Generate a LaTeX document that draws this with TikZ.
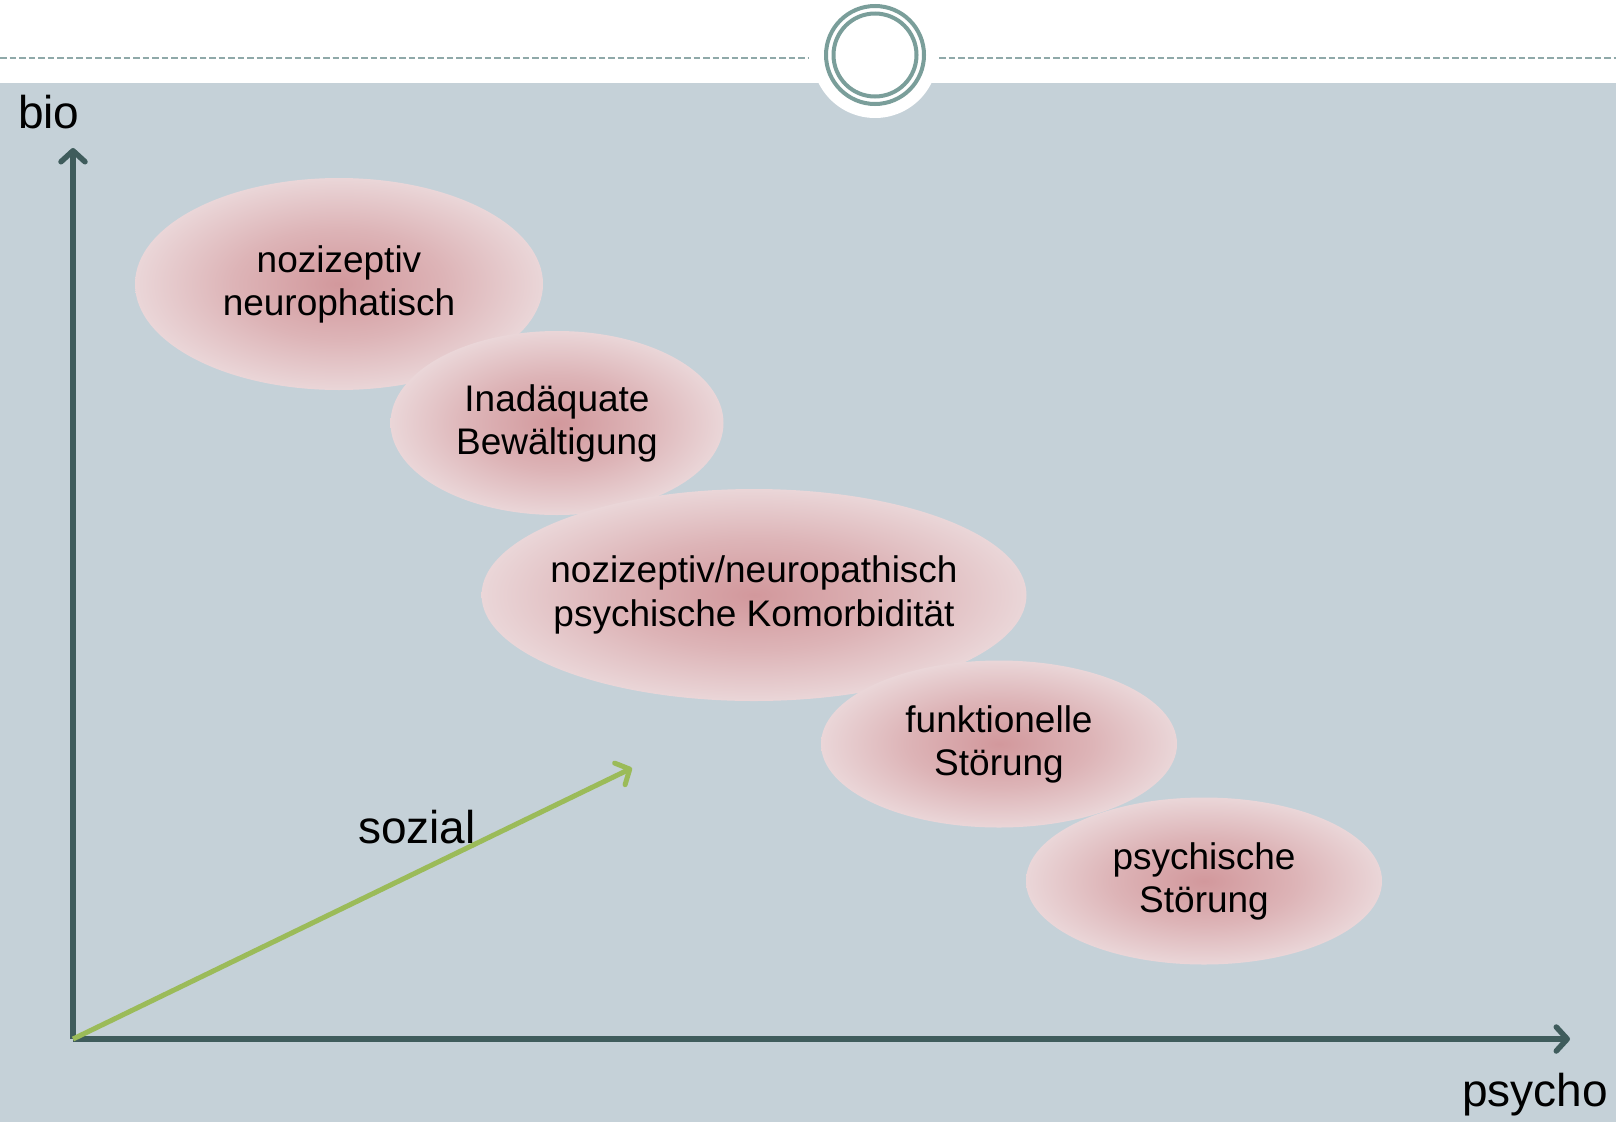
\documentclass[tikz,border=0pt]{standalone}
\usepackage{fontspec}
\setmainfont{Liberation Sans}
\usetikzlibrary{shapes.geometric,arrows.meta}

\definecolor{panel}{RGB}{197,209,216}
\definecolor{ringc}{RGB}{122,158,154}
\definecolor{dashc}{RGB}{143,169,169}
\definecolor{axisc}{RGB}{63,92,92}
\definecolor{greenc}{RGB}{155,187,89}
\definecolor{blobin}{RGB}{210,152,156}
\definecolor{blobmid}{RGB}{221,180,183}
\definecolor{blobout}{RGB}{234,214,216}

% rose glow: dark core fading to a pale rim
\pgfdeclareradialshading{roseglow}{\pgfpoint{0bp}{0bp}}{%
  color(0bp)=(blobin); color(13bp)=(blobmid); color(25bp)=(blobout);
  color(50bp)=(blobout)}

\tikzset{
  axisline/.style={draw=axisc, line width=5.5pt,
    -{Straight Barb[length=11pt,width=24pt,round]}},
  socialline/.style={draw=greenc, line width=5pt,
    -{Straight Barb[length=11pt,width=24pt,round]}},
  blob/.style={ellipse, inner sep=0pt, shading=roseglow,
    align=center, text=black,
    font=\fontsize{37}{43}\selectfont},
  axislabel/.style={anchor=base west, inner sep=0pt, text=black,
    font=\fontsize{46}{52}\selectfont},
  ring/.style={draw=ringc, line width=4pt},
  topdash/.style={draw=dashc, line width=2pt, dash pattern=on 6.5pt off 3pt}
}

\begin{document}
\begin{tikzpicture}[x=1pt,y=-1pt]
  % canvas and header band
  \useasboundingbox (0,0) rectangle (1616,1122);
  \fill[white] (0,0) rectangle (1616,1122);
  \fill[panel] (0,83) rectangle (1616,1122);
  \draw[topdash] (0,58) -- (809,58);
  \draw[topdash] (939,58) -- (1616,58);
  \fill[white] (875,55) circle[radius=63];
  \draw[ring] (875,55) circle[radius=49];
  \draw[ring] (875,55) circle[radius=41.5];

  % axes
  \coordinate (O) at (73,1039);
  \coordinate (ytip) at (73,148);
  \coordinate (xtip) at (1570,1039);
  \coordinate (stip) at (632,768);
  \draw[axisline] (O) -- (ytip);
  \draw[axisline] (O) -- (xtip);
  \draw[socialline] (O) -- (stip);

  \node[axislabel] (bio) at (18,128) {bio};
  \node[axislabel] (psycho) at (1462,1106) {psycho};
  \node[axislabel] (sozial) at (358,843) {sozial};

  % pain categories, later ones lying on top
  \node[blob, minimum width=408, minimum height=212] (noz) at (339,284)
    {nozizeptiv\\neurophatisch};
  \node[blob, minimum width=333, minimum height=184] (inad) at (557,423)
    {Inadäquate\\Bewältigung};
  \node[blob, minimum width=545, minimum height=212, inner xsep=-25pt,
    font=\fontsize{37}{44}\selectfont] (komo) at (754,595)
    {nozizeptiv/neuropathisch\\psychische Komorbidität};
  \node[blob, minimum width=356, minimum height=167] (funk) at (999,744)
    {funktionelle\\Störung};
  \node[blob, minimum width=356, minimum height=167] (psy) at (1204,881)
    {psychische\\Störung};
\end{tikzpicture}
\end{document}
